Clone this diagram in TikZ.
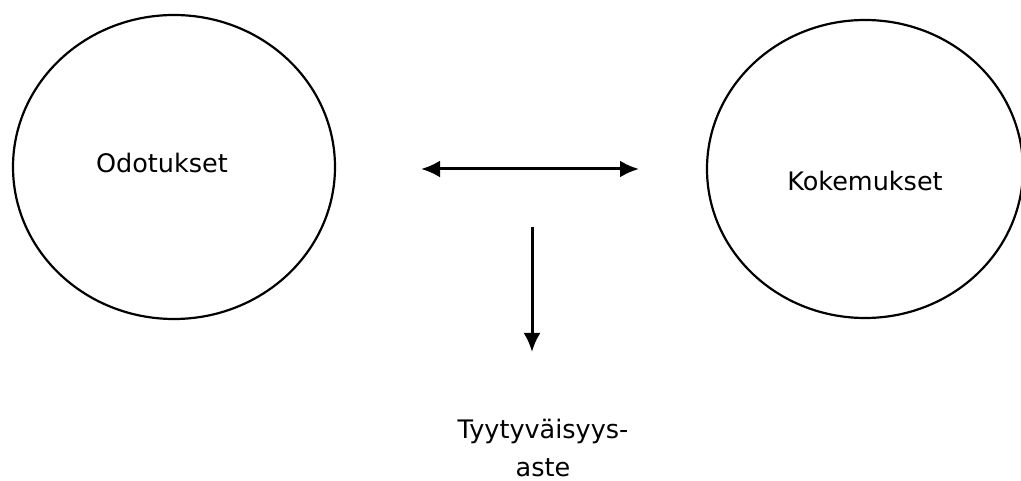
\documentclass[tikz,border=0pt]{standalone}
\usepackage{fontspec}
\setmainfont{DejaVu Sans}
\usetikzlibrary{shapes.geometric,arrows.meta}
\begin{document}
\begin{tikzpicture}[x=1pt,y=-1pt,
  circ/.style={draw=black,line width=2.2pt,ellipse,inner sep=0pt},
  lbl/.style={font=\fontsize{25.5}{38}\selectfont,text=black,align=center,inner sep=0pt},
  arr/.style={line width=3pt,-{Latex[length=19pt,width=17pt]}},
  darr/.style={line width=3pt,{Latex[length=19pt,width=17pt]}-{Latex[length=19pt,width=17pt]}}]
\useasboundingbox (0,0) rectangle (1021,481);
\clip (0,0) rectangle (1021,481);
\node[circ,minimum width=322pt,minimum height=304pt] (odo) at (174,167) {};
\node[circ,minimum width=316pt,minimum height=298pt] (kok) at (865,169) {};
\node[lbl] (odot) at (162,163) {Odotukset};
\node[lbl] (koke) at (865,181) {Kokemukset};
\node[lbl] (tyy) at (543,448) {Tyytyväisyys-\\aste};
\coordinate (hl) at (421,169);
\coordinate (hr) at (639,169);
\coordinate (vt) at (532,227);
\coordinate (vb) at (532,352);
\draw[darr] (hl) -- (hr);
\draw[arr] (vt) -- (vb);
\end{tikzpicture}
\end{document}
